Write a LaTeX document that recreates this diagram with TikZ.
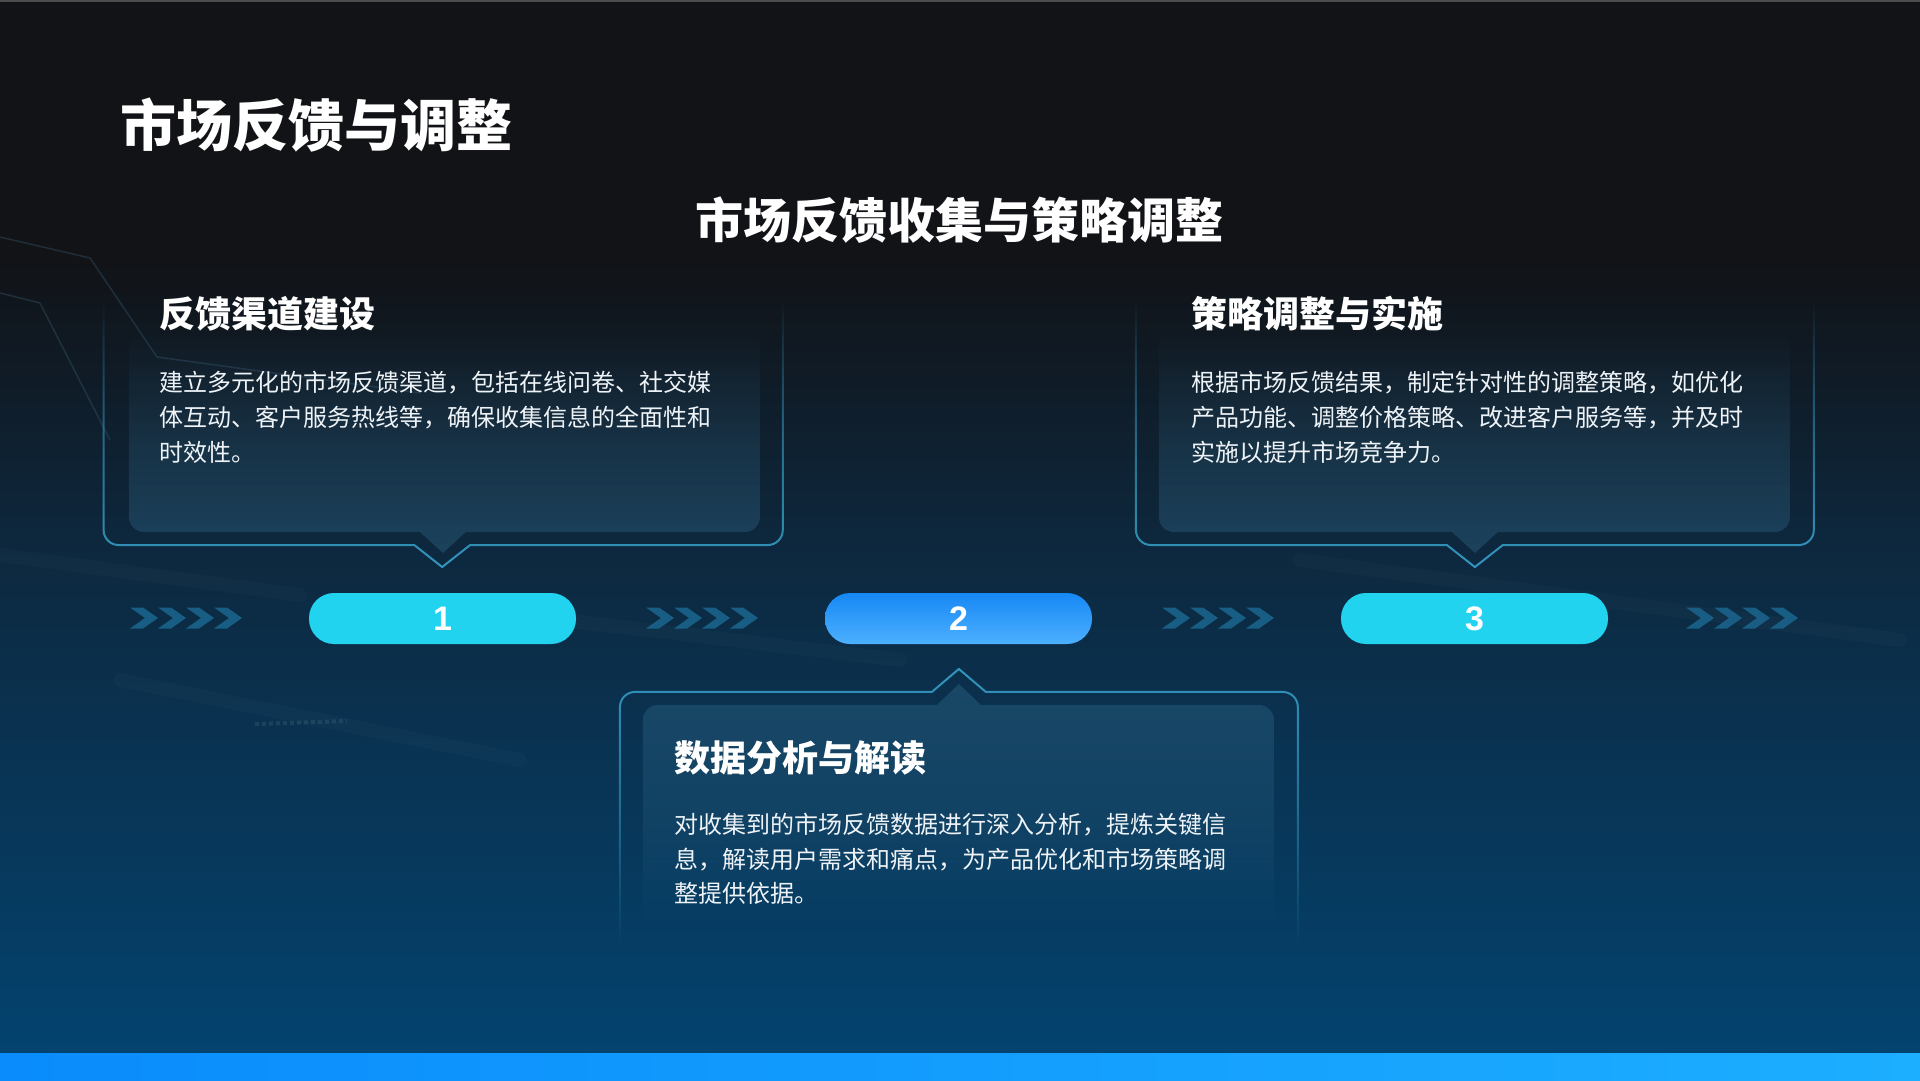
\documentclass[tikz,border=0pt]{standalone}
\usepackage{fontspec}
\setmainfont{Noto Sans CJK SC}
\newfontfamily\digitfont{Liberation Sans}
\usetikzlibrary{fadings}
\definecolor{bgA}{HTML}{111317}
\definecolor{bgB}{HTML}{0D2940}
\definecolor{bgC}{HTML}{03436F}
\definecolor{outc}{HTML}{3396BE}
\definecolor{panelc}{HTML}{3E7FA3}
\definecolor{cyanc}{HTML}{22D3F0}
\definecolor{blueA}{HTML}{1688F4}
\definecolor{blueB}{HTML}{4DB0FF}
\definecolor{chevc}{HTML}{1B6690}
\definecolor{bodyc}{HTML}{EEF3F7}
\definecolor{decoc}{HTML}{36566C}
\definecolor{barA}{HTML}{0A8CFC}
\definecolor{barB}{HTML}{1CAEFF}
\tikzfading[name=fadeUp, top color=transparent!100, bottom color=transparent!0, middle color=transparent!40]
\tikzfading[name=fadeDown, top color=transparent!0, bottom color=transparent!100, middle color=transparent!40]
\tikzset{
  outl/.style={draw=outc, line width=2pt, line join=round},
  panel/.style={fill=panelc, fill opacity=0.30},
  pill/.style={rounded corners=25pt, minimum width=267pt, minimum height=51pt, inner sep=0pt, text=white, font=\digitfont\bfseries\fontsize{34}{34}\selectfont},
  htitle/.style={anchor=base west, inner sep=0pt, text=white, font=\bfseries\fontsize{56}{56}\selectfont},
  hsub/.style={anchor=base, inner sep=0pt, text=white, font=\bfseries\fontsize{48}{48}\selectfont},
  hbox/.style={anchor=base west, inner sep=0pt, text=white, font=\bfseries\fontsize{36}{36}\selectfont},
  body/.style={anchor=base west, inner sep=0pt, text=bodyc, font=\fontsize{24}{24}\selectfont},
  chev/.style={fill=chevc, fill opacity=0.85},
  deco/.style={draw=decoc, line width=1.5pt, draw opacity=0.4},
  streak/.style={draw=white, line width=14pt, draw opacity=0.018, line cap=round},
}
\begin{document}
\begin{tikzpicture}[x=1pt,y=-1pt]
\useasboundingbox (0,0) rectangle (1920,1080);
% background
\fill[bgA] (0,0) rectangle (1920,262);
\shade[top color=bgA, bottom color=bgB] (0,260) rectangle (1920,562);
\shade[top color=bgB, bottom color=bgC] (0,560) rectangle (1920,1054);
\shade[left color=barA, right color=barB] (0,1053) rectangle (1920,1080);
\draw[draw=gray!60!black, line width=2pt] (0,1) -- (1920,1);
% faint decoration
\draw[deco] (0,237) -- (90,258) -- (157,357) -- (420,393);
\draw[deco] (0,293) -- (40,303) -- (110,440);
\draw[streak] (0,555) -- (300,595);
\draw[streak] (480,610) -- (900,660);
\draw[streak] (120,680) -- (520,760);
\draw[streak] (1300,560) -- (1900,640);
\draw[draw=white, draw opacity=0.08, line width=4pt, dash pattern=on 4pt off 3pt] (255,724) -- (347,721);
% box 1
\fill[panel, path fading=fadeUp] (144,330) -- (745,330) .. controls (753.3,330) and (760,336.7) .. (760,345) -- (760,517) .. controls (760,525.3) and (753.3,532) .. (745,532) -- (466,532) -- (443,553) -- (420,532) -- (144,532) .. controls (135.7,532) and (129,525.3) .. (129,517) -- (129,345) .. controls (129,336.7) and (135.7,330) .. (144,330) -- cycle;
\draw[outl, path fading=fadeUp] (104,300) -- (104,530) .. controls (104,538.3) and (110.7,545) .. (119,545) -- (415,545) -- (443,567) -- (471,545) -- (769,545) .. controls (777.3,545) and (784,538.3) .. (784,530) -- (784,300);
% box 3
\fill[panel, path fading=fadeUp] (1174,330) -- (1775,330) .. controls (1783.3,330) and (1790,336.7) .. (1790,345) -- (1790,517) .. controls (1790,525.3) and (1783.3,532) .. (1775,532) -- (1498,532) -- (1475,553) -- (1452,532) -- (1174,532) .. controls (1165.7,532) and (1159,525.3) .. (1159,517) -- (1159,345) .. controls (1159,336.7) and (1165.7,330) .. (1174,330) -- cycle;
\draw[outl, path fading=fadeUp] (1136,300) -- (1136,530) .. controls (1136,538.3) and (1142.7,545) .. (1151,545) -- (1447,545) -- (1475,567) -- (1503,545) -- (1799,545) .. controls (1807.3,545) and (1814,538.3) .. (1814,530) -- (1814,300);
% box 2
\fill[panel, path fading=fadeDown] (658,705) -- (937,705) -- (959,684) -- (981,705) -- (1259,705) .. controls (1267.3,705) and (1274,711.7) .. (1274,720) -- (1274,930) -- (643,930) -- (643,720) .. controls (643,711.7) and (649.7,705) .. (658,705) -- cycle;
\draw[outl, path fading=fadeDown] (620,945) -- (620,707) .. controls (620,698.7) and (626.7,692) .. (635,692) -- (932,692) -- (959,669) -- (986,692) -- (1283,692) .. controls (1291.3,692) and (1298,698.7) .. (1298,707) -- (1298,945);
% chevrons
\foreach \gx in {130,646,1162,1686}{
  \foreach \i in {0,...,3}{
    \fill[chev] ({\gx+28*\i},607.5) -- ++(13,0) -- ++(15,10.5) -- ++(-15,10.5) -- ++(-13,0) -- ++(15,-10.5) -- cycle;
  }
}
% pills
\node[pill, fill=cyanc] (p1) at (442.5,618.5) {1};
\node[pill, top color=blueA, bottom color=blueB] (p2) at (958.5,618.5) {2};
\node[pill, fill=cyanc] (p3) at (1474.5,618.5) {3};
% titles
\node[htitle] (title) at (120,146) {市场反馈与调整};
\node[hsub] (sub) at (959,238) {市场反馈收集与策略调整};
% box 1 text
\node[hbox] (h1) at (159,327) {反馈渠道建设};
\node[body] (b1a) at (159,391) {建立多元化的市场反馈渠道，包括在线问卷、社交媒};
\node[body] (b1b) at (159,426) {体互动、客户服务热线等，确保收集信息的全面性和};
\node[body] (b1c) at (159,461) {时效性。};
% box 3 text
\node[hbox] (h3) at (1191,327) {策略调整与实施};
\node[body] (b3a) at (1191,391) {根据市场反馈结果，制定针对性的调整策略，如优化};
\node[body] (b3b) at (1191,426) {产品功能、调整价格策略、改进客户服务等，并及时};
\node[body] (b3c) at (1191,461) {实施以提升市场竞争力。};
% box 2 text
\node[hbox] (h2) at (674,771) {数据分析与解读};
\node[body] (b2a) at (674,833) {对收集到的市场反馈数据进行深入分析，提炼关键信};
\node[body] (b2b) at (674,868) {息，解读用户需求和痛点，为产品优化和市场策略调};
\node[body] (b2c) at (674,902) {整提供依据。};
\end{tikzpicture}
\end{document}
